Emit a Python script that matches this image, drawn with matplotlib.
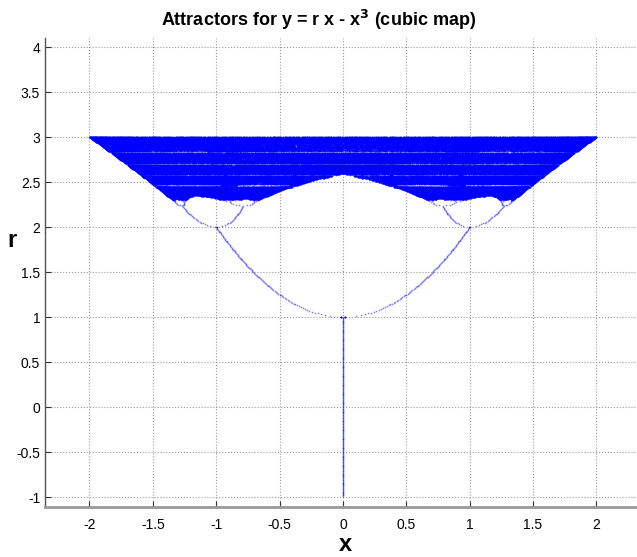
"""Attractors of the cubic map y = r x - x^3, plotted as x against r."""
import numpy as np
import matplotlib
matplotlib.use('Agg')
import matplotlib.pyplot as plt

plt.rcParams['font.family'] = ['Liberation Sans', 'DejaVu Sans']

BLUE = '#0000FF'
GRID = '#9a9a9a'

# sampling of the parameter r (as in the original figure: -1 ... 3)
r_start, r_stop, r_step = -1.0, 3.0, 0.01
# two small symmetric starting points, so both branches of the attractor appear
x_starts = [0.05, -0.05]
n_transient = 1500
n_keep = 1500

x_ticks = [-2, -1.5, -1, -0.5, 0, 0.5, 1, 1.5, 2]
x_tick_labels = ['-2', '-1.5', '-1', '-0.5', '0', '0.5', '1', '1.5', '2']
r_ticks = [-1, -0.5, 0, 0.5, 1, 1.5, 2, 2.5, 3, 3.5, 4]
r_tick_labels = ['-1', '-0.5', '0', '0.5', '1', '1.5', '2', '2.5', '3', '3.5', '4']

# iterate the map for every r value and keep the tail of each orbit
r_grid = np.arange(r_start, r_stop + r_step / 2, r_step)
xs, rs = [], []
for x0 in x_starts:
    x = np.full_like(r_grid, x0)
    for _ in range(n_transient):
        x = r_grid * x - x ** 3
    for _ in range(n_keep):
        x = r_grid * x - x ** 3
        xs.append(x.copy())
        rs.append(r_grid)
xs = np.concatenate(xs)
rs = np.concatenate(rs)
ok = np.isfinite(xs) & (np.abs(xs) < 3)
xs, rs = xs[ok], rs[ok]
# drop repeated points (periodic orbits revisit the same x many times)
pts = np.unique(np.column_stack([np.round(xs, 3) + 0.0, np.round(rs, 4)]), axis=0)
xs, rs = pts[:, 0], pts[:, 1]

fig = plt.figure(figsize=(6.37, 5.57), dpi=100)
ax = fig.add_axes([45 / 637, 50 / 557, 592 / 637, 469 / 557])

ax.plot(xs, rs, '.', color=BLUE, markersize=2.4, markeredgewidth=0, alpha=0.5)

ax.set_xlim(-2.35, 2.32)
ax.set_ylim(-1.11, 4.1)
ax.set_xticks(x_ticks)
ax.set_xticklabels(x_tick_labels)
ax.set_yticks(r_ticks)
ax.set_yticklabels(r_tick_labels)
ax.tick_params(direction='in', length=4, labelsize=10, colors='#333333',
               labelcolor='black')
ax.tick_params(axis='x', pad=8)
ax.grid(True, linestyle=':', color=GRID, linewidth=0.8)
ax.set_axisbelow(True)

ax.spines['top'].set_visible(False)
ax.spines['right'].set_visible(False)
ax.spines['left'].set_color('#555555')
ax.spines['left'].set_linewidth(1.0)
ax.spines['bottom'].set_color('#999999')
ax.spines['bottom'].set_linewidth(2.0)

ax.set_xlabel('x', fontsize=17, fontweight='bold', va='center')
ax.xaxis.set_label_coords(0.508, -0.081)
ax.set_ylabel('r', fontsize=17, fontweight='bold', rotation=0, va='center', ha='center')
ax.yaxis.set_label_coords(-0.056, 0.569)

fig.text(0.5, 1 - 20 / 557, r'Attractors for y = r x - x$^\mathbf{3}$ (cubic map)',
         ha='center', va='center', fontsize=13, fontweight='bold',
         family=['Liberation Sans Narrow', 'Liberation Sans', 'DejaVu Sans'])

fig.savefig('out.png', dpi=100, facecolor='white')
